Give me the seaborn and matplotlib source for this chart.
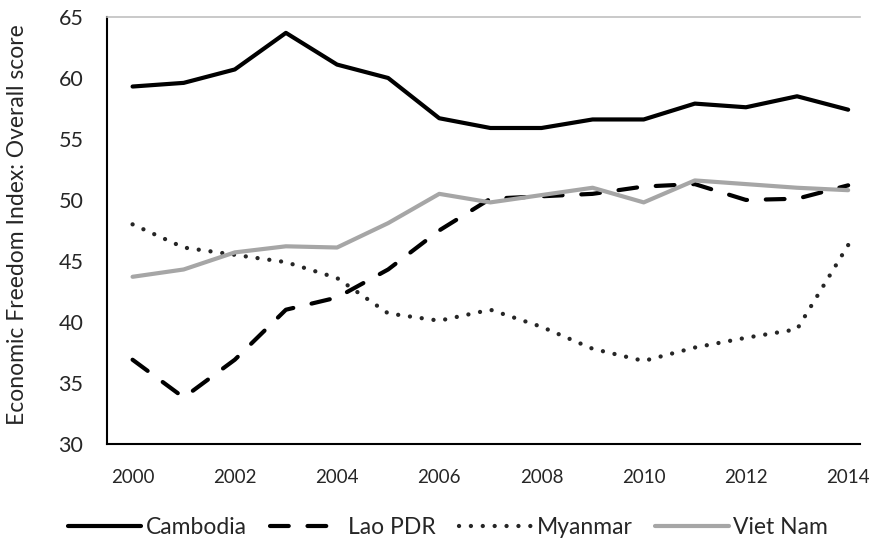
import pandas as pd
import matplotlib.pyplot as plt
from matplotlib.lines import Line2D
import seaborn as sns

# values
years = list(range(2000, 2015))
cambodia = [59.3, 59.6, 60.7, 63.7, 61.1, 60.0, 56.7, 55.9, 55.9, 56.6, 56.6, 57.9, 57.6, 58.5, 57.4]
lao_pdr = [36.9, 33.8, 36.9, 41.0, 42.0, 44.3, 47.5, 50.1, 50.3, 50.5, 51.1, 51.3, 50.0, 50.1, 51.2]
myanmar = [48.0, 46.1, 45.5, 44.9, 43.6, 40.7, 40.1, 41.0, 39.6, 37.8, 36.8, 37.9, 38.7, 39.4, 46.3]
viet_nam = [43.7, 44.3, 45.7, 46.2, 46.1, 48.1, 50.5, 49.8, 50.4, 51.0, 49.8, 51.6, 51.3, 51.0, 50.8]

countries = ["Cambodia", "Lao PDR", "Myanmar", "Viet Nam"]
series = [cambodia, lao_pdr, myanmar, viet_nam]
y_ticks = [30, 35, 40, 45, 50, 55, 60, 65]
x_labels = [2000, 2002, 2004, 2006, 2008, 2010, 2012, 2014]

df = pd.DataFrame({
    "year": years * len(countries),
    "score": [v for s in series for v in s],
    "country": [c for c in countries for _ in years],
})

styles = {
    "Cambodia": dict(color="black", lw=3.0, ls="-"),
    "Lao PDR": dict(color="black", lw=3.0, ls=(0, (4.5, 4.5))),
    "Myanmar": dict(color="#262626", lw=3.1, ls=(0, (0.01, 2.75))),
    "Viet Nam": dict(color="#a6a6a6", lw=3.0, ls="-"),
}

sns.set_style("white")
plt.rcParams["font.family"] = ["Lato", "DejaVu Sans"]

fig = plt.figure(figsize=(8.7, 5.4), dpi=100)
ax = fig.add_axes([0.123, 0.178, 0.866, 0.7905])

for c in countries:
    st = styles[c]
    sns.lineplot(data=df[df["country"] == c], x="year", y="score", ax=ax,
                 color=st["color"], linewidth=st["lw"], linestyle=st["ls"],
                 legend=False)
for line in ax.lines:
    line.set_dash_capstyle("round")
    line.set_solid_capstyle("round")
    line.set_solid_joinstyle("round")

ax.set_ylim(30, 65)
ax.set_xlim(1999.5, 2014.24)
ax.set_yticks(y_ticks)
ax.set_xticks(x_labels)
ax.set_xticks([y - 0.5 for y in years], minor=True)
ax.tick_params(axis="x", which="major", length=0, pad=18, labelsize=13.5)
ax.tick_params(axis="x", which="minor", length=5, width=1.2, direction="out", color="black")
ax.tick_params(axis="y", length=5, width=1.2, direction="out", color="black", pad=12, labelsize=15.5)
ax.set_xlabel("")
ax.set_ylabel("Economic Freedom Index: Overall score", fontsize=16.5)
ax.yaxis.set_label_coords(-0.105, 0.513)

for side in ["left", "bottom"]:
    ax.spines[side].set_color("black")
    ax.spines[side].set_linewidth(1.5)
ax.spines["right"].set_visible(False)
ax.spines["top"].set_color("#c0c0c0")
ax.spines["top"].set_linewidth(1.2)

handles = [Line2D([0], [0], color=styles[c]["color"], lw=styles[c]["lw"],
                  ls=styles[c]["ls"], dash_capstyle="round", solid_capstyle="round")
           for c in countries]
fig.legend(handles, countries, loc="center", bbox_to_anchor=(0.515, 0.024), ncol=4,
           frameon=False, fontsize=16.5, handlelength=3.2, handletextpad=0.2,
           columnspacing=1.0)

fig.savefig("out.png", dpi=100)
